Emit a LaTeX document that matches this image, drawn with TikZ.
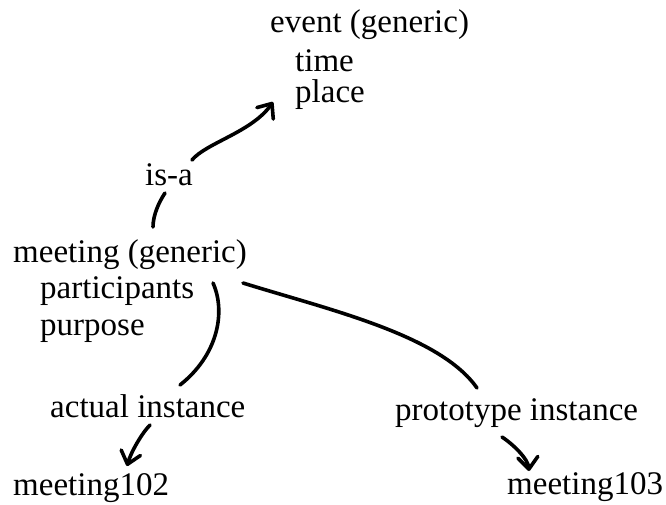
\documentclass[tikz,border=0pt]{standalone}
\usepackage{fontspec}
\setmainfont{Liberation Serif}
\usetikzlibrary{arrows.meta}
\tikzset{
  lbl/.style={anchor=base west, inner sep=0pt, font=\fontsize{33}{40}\selectfont},
  link/.style={line width=3.6pt, line cap=round, line join=round},
  arr/.style={link, -{Straight Barb[length=12pt,width=20pt,line cap=round,line join=round]}}
}
\begin{document}
\begin{tikzpicture}[x=1pt,y=-1pt]
\useasboundingbox (0,0) rectangle (666,504);
% nodes
\node[lbl] (event) at (270,32) {event (generic)};
\node[lbl] (time) at (295,71) {time};
\node[lbl] (place) at (295,102) {place};
\node[lbl] (isa) at (145,185) {is-a};
\node[lbl] (meeting) at (13,262) {meeting (generic)};
\node[lbl] (participants) at (40,298) {participants};
\node[lbl] (purpose) at (40,335) {purpose};
\node[lbl] (actual) at (50,417) {actual instance};
\node[lbl] (proto) at (395,420) {prototype instance};
\node[lbl] (m102) at (13,495) {meeting102};
\node[lbl] (m103) at (507,494) {meeting103};
% connectors
\draw[arr] ([shift={(47,-25)}]isa.base west) .. controls +(14,-17) and +(-21,30) .. ([shift={(-22,0)}]place.base west);
\draw[link] ([shift={(20,8)}]isa.base west) .. controls +(-6,9) and +(0,-12) .. ([shift={(140,-35)}]meeting.base west);
\draw[link] ([shift={(173,-15)}]participants.base west) .. controls +(13,29) and +(38,-30) .. ([shift={(130,-32)}]actual.base west);
\draw[link] ([shift={(230,21)}]meeting.base west) .. controls +(87,27) and +(-37,-53) .. ([shift={(82,-32)}]proto.base west);
\draw[arr] ([shift={(100,8)}]actual.base west) .. controls +(-8,8) and +(4,-14) .. ([shift={(114,-29)}]m102.base west);
\draw[arr] ([shift={(107,17)}]proto.base west) .. controls +(12,8) and +(-1,-12) .. ([shift={(22,-23)}]m103.base west);
\end{tikzpicture}
\end{document}
